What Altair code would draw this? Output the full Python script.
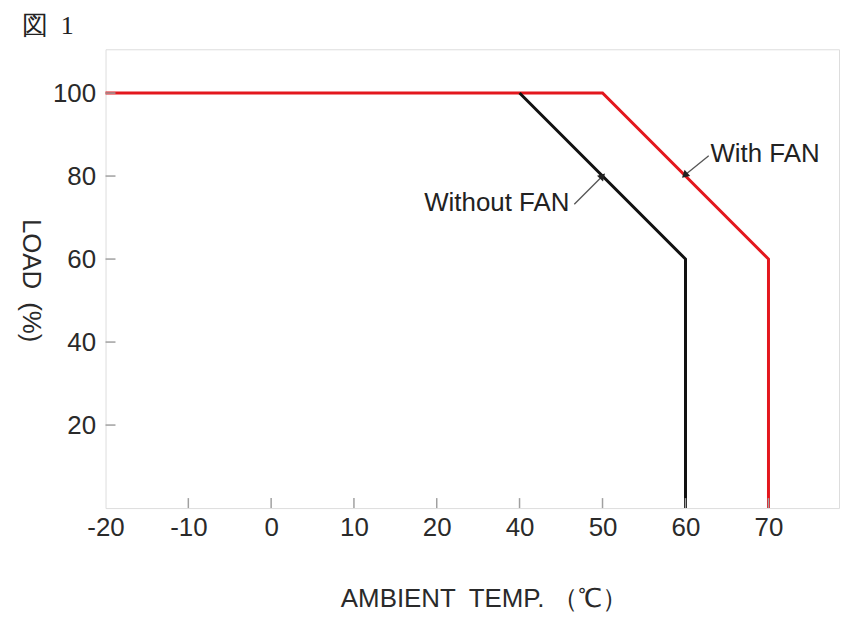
import altair as alt
import pandas as pd

# ---- data ----
with_fan_t = [-20, 50, 70, 70]
with_fan_load = [100, 100, 60, 0]
without_fan_t = [40, 60, 60]
without_fan_load = [100, 60, 0]

x_tick_labels = [-20, -10, 0, 10, 20, 40, 50, 60, 70]
x_inner_ticks = [-10, 0, 10, 20, 40, 50, 60, 70]
y_tick_labels = [20, 40, 60, 80, 100]

ann_text = ["With FAN", "Without FAN"]
ann_x = [63.0, 46.0]
ann_y = [85.3, 73.4]
ann_align = ["left", "right"]

lead_x = [62.8, 46.6]
lead_y = [84.9, 73.2]
lead_tip_x = [59.9, 50.0]
lead_tip_y = [80.2, 80.0]
lead_angle = [228, 44]

W, H = 737, 461

rows = []
for i, (t, l) in enumerate(zip(with_fan_t, with_fan_load)):
    rows.append({"series": "With FAN", "t": t, "load": l, "o": i})
for i, (t, l) in enumerate(zip(without_fan_t, without_fan_load)):
    rows.append({"series": "Without FAN", "t": t, "load": l, "o": i})
df = pd.DataFrame(rows)

xscale = alt.Scale(domain=[-20, 20, 40, 78.5], range=[0, 332.8, 416, W], zero=False, nice=False)
yscale = alt.Scale(domain=[0, 110.55], zero=False, nice=False)

FONT = "Liberation Sans"
FS = 26

xaxis = alt.Axis(values=x_tick_labels, ticks=False, domain=False, grid=False,
                 labelExpr="'' + datum.value",
                 labelFontSize=FS, labelFont=FONT, labelColor="#2a2a2a", labelPadding=7,
                 labelFlush=False, labelOverlap=False,
                 title="AMBIENT\u2002TEMP. （℃）", titleFont=FONT, titleFontSize=FS,
                 titleFontWeight="normal", titleColor="#2a2a2a",
                 titleX=380, titleY=91, titleBaseline="middle", titleAnchor="middle")
yaxis = alt.Axis(values=y_tick_labels, ticks=False, domain=False, grid=False,
                 labelFontSize=FS, labelFont=FONT, labelColor="#2a2a2a", labelPadding=10,
                 labelOverlap=False,
                 title="LOAD\u2002(%)", titleFont=FONT, titleFontSize=FS, titleFontWeight="normal",
                 titleColor="#2a2a2a", titleAngle=90, titleX=-75, titleY=232,
                 titleBaseline="middle", titleAlign="center")

lines = alt.Chart(df).mark_line(strokeWidth=3, strokeJoin="miter").encode(
    x=alt.X("t:Q", scale=xscale, axis=xaxis),
    y=alt.Y("load:Q", scale=yscale, axis=yaxis),
    color=alt.Color("series:N", scale=alt.Scale(domain=["With FAN", "Without FAN"],
                                                range=["#e3171d", "#111111"]), legend=None),
    order="o:Q",
)

xt = alt.Chart(pd.DataFrame({"t": x_inner_ticks})).mark_rule(color="#a0a0a0", strokeWidth=1.5).encode(
    x=alt.X("t:Q", scale=xscale), y=alt.value(H), y2=alt.value(H - 10))
yt = alt.Chart(pd.DataFrame({"load": y_tick_labels})).mark_rule(color="#a0a0a0", strokeWidth=1.5).encode(
    y=alt.Y("load:Q", scale=yscale), x=alt.value(0), x2=alt.value(10))

ann = pd.DataFrame({"text": ann_text, "x": ann_x, "y": ann_y, "align": ann_align,
                    "lx": lead_x, "ly": lead_y, "tx": lead_tip_x, "ty": lead_tip_y,
                    "ang": lead_angle})

texts_l = alt.Chart(ann[ann["align"] == "left"]).mark_text(
    align="left", baseline="middle", font=FONT, fontSize=FS, color="#222222").encode(
    x=alt.X("x:Q", scale=xscale), y=alt.Y("y:Q", scale=yscale), text="text:N")
texts_r = alt.Chart(ann[ann["align"] == "right"]).mark_text(
    align="right", baseline="middle", font=FONT, fontSize=FS, color="#222222").encode(
    x=alt.X("x:Q", scale=xscale), y=alt.Y("y:Q", scale=yscale), text="text:N")

leaders = alt.Chart(ann).mark_rule(color="#555555", strokeWidth=1.3).encode(
    x=alt.X("lx:Q", scale=xscale), y=alt.Y("ly:Q", scale=yscale),
    x2="tx:Q", y2="ty:Q")
heads = alt.Chart(ann).mark_point(shape="triangle-up", filled=True, size=70,
                                  color="#222222", opacity=1).encode(
    x=alt.X("tx:Q", scale=xscale), y=alt.Y("ty:Q", scale=yscale),
    angle=alt.Angle("ang:Q", scale=None))

chart = alt.layer(lines, xt, yt, leaders, heads, texts_l, texts_r).properties(
    width=W, height=H,
    title=alt.TitleParams("図\u20021", anchor="start", frame="group", font="Liberation Serif",
                          fontSize=26, fontWeight="normal", color="#222222", dx=-84, offset=10),
    autosize=alt.AutoSizeParams(type="none"),
    padding={"left": 98, "top": 40, "right": 2, "bottom": 110},
).configure_view(stroke="#a8a8a8", strokeWidth=2.5).configure(background="white")

chart.save("out.html", embed_options={"renderer": "svg", "actions": False})
